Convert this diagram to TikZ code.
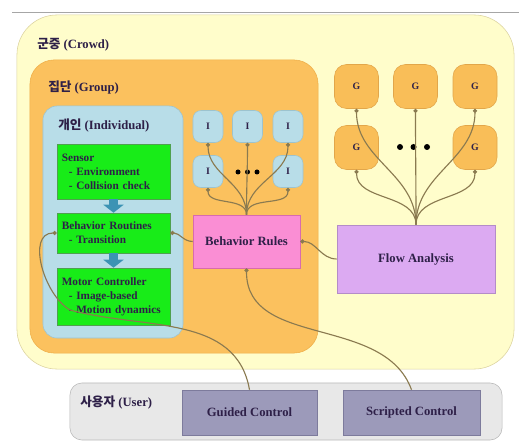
\documentclass[tikz,border=0pt]{standalone}
\usepackage{fontspec}
\setmainfont{Liberation Serif}
\newfontfamily\krfont{Noto Sans CJK KR}
\usetikzlibrary{arrows.meta}
\definecolor{crowdbg}{HTML}{FFFDCB}
\definecolor{crowdline}{HTML}{DCD3A0}
\definecolor{groupbg}{HTML}{FBC15E}
\definecolor{groupline}{HTML}{EFAE48}
\definecolor{indbg}{HTML}{B8DDE8}
\definecolor{indline}{HTML}{9CC3CF}
\definecolor{grnbg}{HTML}{18EC18}
\definecolor{grnline}{HTML}{4FA04F}
\definecolor{rulebg}{HTML}{FA8ED4}
\definecolor{ruleline}{HTML}{D86BAE}
\definecolor{flowbg}{HTML}{DCAAF2}
\definecolor{flowline}{HTML}{B48CC8}
\definecolor{ctrlbg}{HTML}{9C9ABA}
\definecolor{ctrlline}{HTML}{7D7B9C}
\definecolor{userbg}{HTML}{E8E8E8}
\definecolor{userline}{HTML}{B8B8B8}
\definecolor{gbg}{HTML}{F9BE58}
\definecolor{gline}{HTML}{E2A64A}
\definecolor{linkc}{HTML}{8A7A50}
\definecolor{arrc}{HTML}{3C93B4}
\definecolor{txt}{HTML}{2E2048}

\begin{document}
\begin{tikzpicture}[x=0.025cm,y=0.025cm,font=\fontsize{9}{11}\selectfont\bfseries,text=txt,
  box/.style={draw,rectangle,inner sep=0pt},
  ibox/.style={box,draw=indline,fill=indbg,rounded corners=2mm,minimum width=7.5mm,minimum height=8mm,font=\fontsize{7}{8}\selectfont\bfseries},
  gbox/.style={box,draw=gline,fill=gbg,rounded corners=3mm,minimum size=11mm,font=\fontsize{7}{8}\selectfont\bfseries},
  grn/.style={box,draw=grnline,fill=grnbg,inner xsep=1.2mm,text width=25.85mm,align=left,font=\fontsize{8}{10}\selectfont\bfseries},
  ctrl/.style={box,draw=ctrlline,fill=ctrlbg,minimum height=11.25mm},
  lbl/.style={anchor=west,inner sep=0pt},
  link/.style={draw=linkc,thick,-{Circle[length=3pt]}},
  flowarr/.style={draw=arrc,line width=2.2mm,-{Triangle[length=2mm,width=5mm]}}]
\useasboundingbox (0,0) rectangle (519,441);
\draw[gray!70] (12,429) -- (519,429);
\node[box,draw=crowdline,fill=crowdbg,rounded corners=10mm,minimum width=124.25mm,minimum height=88.5mm] (crowd) at (265.5,249) {};
\node[lbl] (crowdlbl) at (37,396) {{\krfont 군중} (Crowd)};
\node[box,draw=groupline,fill=groupbg,rounded corners=6mm,minimum width=72mm,minimum height=73.25mm] (group) at (174,234.5) {};
\node[lbl] (grouplbl) at (48,353) {{\krfont 집단} (Group)};
\node[box,draw=indline,fill=indbg,rounded corners=3.5mm,minimum width=35mm,minimum height=58mm] (indiv) at (113,219) {};
\node[lbl] (indivlbl) at (58,315) {{\krfont 개인} (Individual)};
\node[grn,minimum height=13.75mm] (sensor) at (113.5,269.5) {Sensor\\\hspace*{5pt}- Environment\\\hspace*{5pt}- Collision check};
\node[grn,minimum height=10mm] (routines) at (113.5,208) {Behavior Routines\\\hspace*{5pt}- Transition};
\node[grn,minimum height=14.25mm] (motor) at (113.5,144.5) {Motor Controller\\\hspace*{5pt}- Image-based\\\hspace*{5pt}- Motion dynamics};
\draw[flowarr] (sensor) -- (routines);
\draw[flowarr] (routines) -- (motor);
\node[ibox] (i1) at (208,314.5) {I};
\node[ibox] (i2) at (247.5,314.5) {I};
\node[ibox] (i3) at (288,314.5) {I};
\node[ibox] (i4) at (208,269.5) {I};
\node[ibox] (i5) at (288,269.5) {I};
\foreach \x in {238,247.5,257}{\fill (\x,269) circle (2.5);}
\node[box,draw=ruleline,fill=rulebg,minimum width=26.75mm,minimum height=13.25mm] (rules) at (246.5,199.5) {Behavior Rules};
\node[gbox] (g1) at (356.5,354.5) {G};
\node[gbox] (g2) at (415.5,354.5) {G};
\node[gbox] (g3) at (475,354.5) {G};
\node[gbox] (g4) at (356.5,293.5) {G};
\node[gbox] (g5) at (475,293.5) {G};
\foreach \x in {400,413.5,427}{\fill (\x,294) circle (3);}
\node[box,draw=flowline,fill=flowbg,minimum width=39.5mm,minimum height=17mm] (flow) at (416,182) {Flow Analysis};
\node[box,draw=userline,fill=userbg,rounded corners=3mm,minimum width=108mm,minimum height=14.25mm] (user) at (286,29.5) {};
\node[lbl] (userlbl) at (80,38) {{\krfont 사용자} (User)};
\node[ctrl,minimum width=33.75mm] (guided) at (249.5,28.5) {Guided Control};
\node[ctrl,minimum width=34.25mm] (scripted) at (411.5,28.5) {Scripted Control};
\foreach \n in {i1,i2,i3,i4,i5}{\draw[link] (rules.north) to[out=90,in=-90] (\n.south);}
\foreach \n in {g1,g2,g3,g4,g5}{\draw[link] (flow.north) to[out=90,in=-90] (\n.south);}
\draw[link] (flow.west) to[out=180,in=0] (rules.east);
\draw[link] (rules.west) to[out=180,in=0] (routines.east);
\coordinate (gbend) at (70,131);
\draw[link] (guided.north) to[out=100,in=-15] (gbend) to[out=150,in=180] (routines.west);
\draw[link] (scripted.north) to[out=110,in=-90] (rules.south);
\end{tikzpicture}
\end{document}
